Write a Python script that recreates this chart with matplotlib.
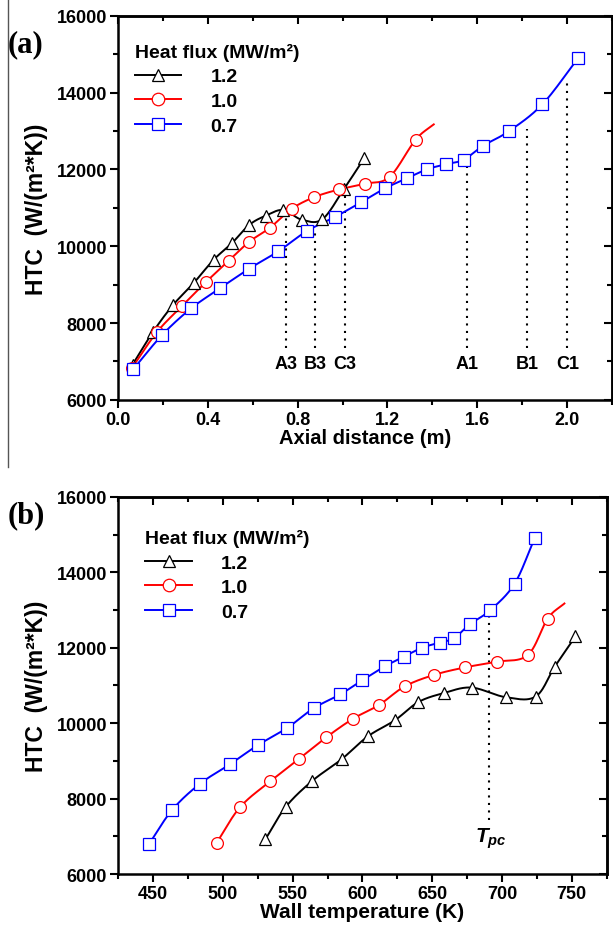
import matplotlib
matplotlib.use('Agg')
import matplotlib.pyplot as plt
from matplotlib.lines import Line2D
from matplotlib.ticker import MultipleLocator
import numpy as np

plt.rcParams['font.family'] = ['Liberation Sans', 'DejaVu Sans']
plt.rcParams['font.weight'] = 'bold'
plt.rcParams['mathtext.fontset'] = 'custom'
plt.rcParams['mathtext.it'] = 'Liberation Sans:italic:bold'
plt.rcParams['mathtext.rm'] = 'Liberation Sans:bold'

# heat flux 1.2 MW/m2
x_12 = [0.065, 0.157, 0.245, 0.338, 0.426, 0.507, 0.585, 0.659, 0.736, 0.819, 0.910, 1.007, 1.097]
tw_12 = [530.4, 545.0, 564.0, 585.2, 603.8, 623.3, 640.0, 658.4, 678.2, 702.5, 724.0, 737.8, 752.6]
htc_12 = [6920, 7780, 8470, 9050, 9650, 10080, 10560, 10800, 10945, 10690, 10705, 11500, 12300]

# heat flux 1.0 MW/m2 (last point has no marker)
x_10 = [0.062, 0.174, 0.287, 0.390, 0.494, 0.585, 0.677, 0.773, 0.874, 0.984, 1.100, 1.209, 1.325, 1.406]
tw_10 = [495.5, 512.2, 533.7, 554.7, 574.2, 593.3, 611.9, 630.2, 651.2, 673.5, 696.2, 718.4, 732.7, 744.7]
htc_10 = [6830, 7770, 8455, 9060, 9630, 10120, 10485, 10975, 11280, 11480, 11630, 11805, 12775, 13175]

# heat flux 0.7 MW/m2
x_07 = [0.068, 0.198, 0.327, 0.455, 0.585, 0.714, 0.841, 0.967, 1.081, 1.188, 1.285, 1.376,
        1.460, 1.539, 1.627, 1.741, 1.890, 2.049]
tw_07 = [447.1, 463.6, 483.4, 504.9, 525.1, 545.9, 565.0, 584.1, 600.0, 616.0, 629.8, 643.0,
         655.3, 665.6, 676.9, 691.6, 709.0, 723.3]
htc_07 = [6800, 7700, 8390, 8908, 9420, 9870, 10397, 10766, 11142, 11506, 11768, 12005,
          12137, 12255, 12623, 12999, 13700, 14900]

# marked positions in (a)
pos_names = ['A3', 'B3', 'C3', 'A1', 'B1', 'C1']
pos_x = [0.748, 0.878, 1.010, 1.553, 1.821, 2.001]
pos_top = [10900, 10400, 11430, 12200, 13060, 14280]
pos_bottom = 7350
label_y = 6950

# pseudo-critical temperature in (b)
t_pc = 691
t_pc_top = 12900


def smooth(x, y, n=24):
    # catmull-rom through the points, just for drawing the connecting line
    x = np.asarray(x, float)
    y = np.asarray(y, float)
    px = np.concatenate([[2 * x[0] - x[1]], x, [2 * x[-1] - x[-2]]])
    py = np.concatenate([[2 * y[0] - y[1]], y, [2 * y[-1] - y[-2]]])
    t = np.linspace(0, 1, n, endpoint=False)
    xs, ys = [], []
    for i in range(1, len(px) - 2):
        for p, out in ((px, xs), (py, ys)):
            p0, p1, p2, p3 = p[i - 1], p[i], p[i + 1], p[i + 2]
            out.append(0.5 * (2 * p1 + (-p0 + p2) * t
                              + (2 * p0 - 5 * p1 + 4 * p2 - p3) * t ** 2
                              + (-p0 + 3 * p1 - 3 * p2 + p3) * t ** 3))
    xs.append([x[-1]])
    ys.append([y[-1]])
    return np.concatenate(xs), np.concatenate(ys)


series = [
    ('1.2', 'black', '^', x_12, tw_12, htc_12, len(htc_12)),
    ('1.0', 'red', 'o', x_10, tw_10, htc_10, len(htc_10) - 1),
    ('0.7', 'blue', 's', x_07, tw_07, htc_07, len(htc_07)),
]

fig = plt.figure(figsize=(6.13, 9.28), dpi=100)
ax1 = fig.add_axes([0.1925, 0.568, 0.806, 0.4138])
ax2 = fig.add_axes([0.193, 0.0571, 0.7967, 0.4063])

fig.add_artist(Line2D([0.013, 0.013], [1.0, 0.496], transform=fig.transFigure,
                      color='#555555', lw=1))

for ax, col in ((ax1, 3), (ax2, 4)):
    for s in series:
        xv, yv = s[col], s[5]
        sx, sy = smooth(xv, yv)
        ax.plot(sx, sy, color=s[1], lw=1.4, zorder=3)
        ax.plot(xv[:s[6]], yv[:s[6]], ls='none', marker=s[2], ms=8.5, mfc='white',
                mec=s[1], mew=0.9, zorder=4)

handles = [Line2D([], [], color=s[1], lw=1.4, marker=s[2], ms=9, mfc='white',
                  mec=s[1], mew=0.9) for s in series]
labels = [s[0] for s in series]

for ax, anchor in ((ax1, (0.034, 0.93)), (ax2, (0.055, 0.915))):
    leg = ax.legend(handles, labels, loc='upper left', bbox_to_anchor=anchor,
                    frameon=False, title='Heat flux (MW/m²)', alignment='left',
                    prop={'size': 14, 'weight': 'bold'},
                    title_fontproperties={'size': 14, 'weight': 'bold'},
                    handlelength=2.4, handletextpad=1.5, labelspacing=0.36,
                    borderaxespad=0, borderpad=0)

# dotted guide lines (a)
for name, xp, top in zip(pos_names, pos_x, pos_top):
    ax1.plot([xp, xp], [pos_bottom, top], color='black', lw=1.5,
             ls=(0, (1, 2.6)), zorder=2)
    ax1.text(xp, label_y, name, ha='center', va='center', fontsize=13,
             fontweight='bold')

ax2.plot([t_pc, t_pc], [7420, t_pc_top], color='black', lw=1.5,
         ls=(0, (1, 2.6)), zorder=2)
ax2.text(t_pc + 1, 6950, r'$T_{pc}$', ha='center', va='center', fontsize=15)

ax1.set_xlim(0, 2.2)
ax1.xaxis.set_major_locator(MultipleLocator(0.4))
ax1.xaxis.set_minor_locator(MultipleLocator(0.2))
ax1.xaxis.set_major_formatter(lambda v, p: f'{v:.1f}' if v < 2.15 else '')
ax1.set_xlabel('Axial distance (m)', fontsize=14.5, fontweight='bold')
ax1.xaxis.set_label_coords(0.5, -0.072)

ax2.set_xlim(425, 775)
ax2.xaxis.set_major_locator(MultipleLocator(50))
ax2.xaxis.set_minor_locator(MultipleLocator(25))
ax2.set_xlabel('Wall temperature (K)', fontsize=15, fontweight='bold')
ax2.xaxis.set_label_coords(0.5, -0.075)

for ax, lx in ((ax1, -0.142), (ax2, -0.143)):
    ax.set_ylim(6000, 16000)
    ax.yaxis.set_major_locator(MultipleLocator(2000))
    ax.yaxis.set_minor_locator(MultipleLocator(1000))
    ax.set_ylabel('HTC  (W/(m²*K))', fontsize=16.5, fontweight='bold')
    ax.yaxis.set_label_coords(lx, 0.5)
    for sp in ax.spines.values():
        sp.set_linewidth(1.8)
    ax.tick_params(which='both', direction='out', width=1.5, labelsize=13,
                   pad=2)
    ax.tick_params(which='major', length=6)
    ax.tick_params(which='minor', length=3.5)
    # mirrored ticks on top/right pointing inwards, no labels
    top = ax.secondary_xaxis('top')
    top.xaxis.set_major_locator(ax.xaxis.get_major_locator())
    top.xaxis.set_minor_locator(ax.xaxis.get_minor_locator())
    top.tick_params(which='both', direction='in', width=1.5, labeltop=False)
    right = ax.secondary_yaxis('right')
    right.yaxis.set_major_locator(ax.yaxis.get_major_locator())
    right.yaxis.set_minor_locator(ax.yaxis.get_minor_locator())
    right.tick_params(which='both', direction='in', width=1.5, labelright=False)
    for sec in (top, right):
        sec.tick_params(which='major', length=6)
        sec.tick_params(which='minor', length=3.5)
        for sp in sec.spines.values():
            sp.set_linewidth(1.8)

fig.text(0.012, 0.952, '(a)', family='Liberation Serif', fontsize=22,
         fontweight='bold', va='center')
fig.text(0.012, 0.444, '(b)', family='Liberation Serif', fontsize=22,
         fontweight='bold', va='center')

fig.savefig('out.png', dpi=100)
